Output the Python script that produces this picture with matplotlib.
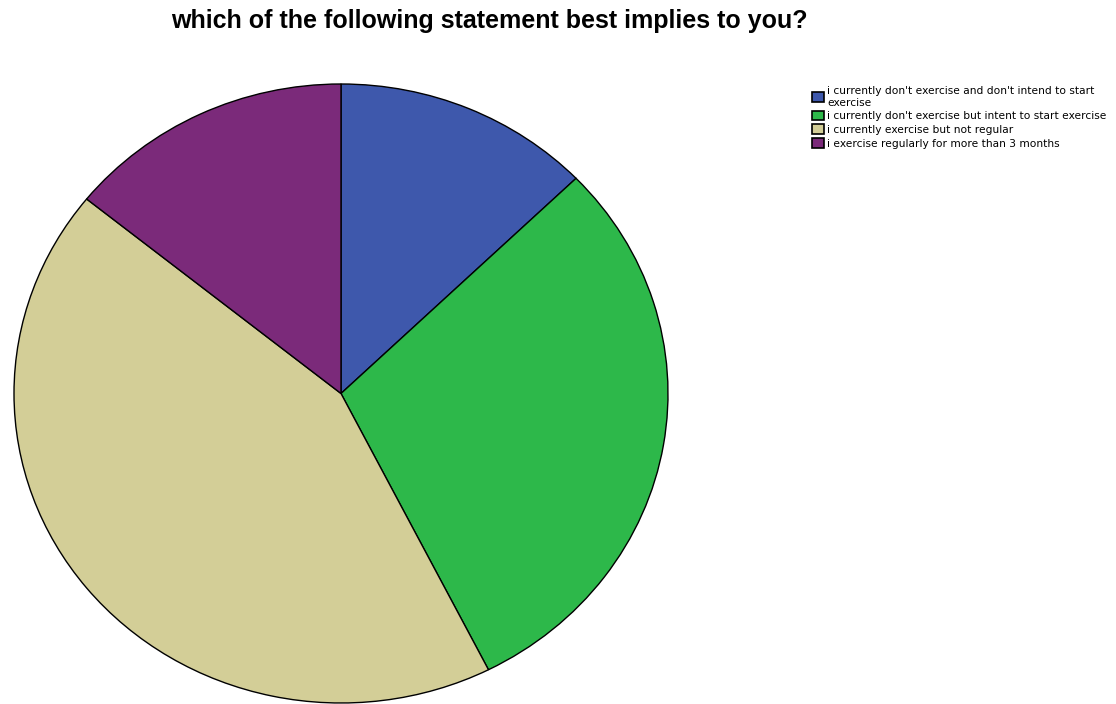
import matplotlib.pyplot as plt
from matplotlib.patches import Patch

plt.rcParams['font.family'] = ['Liberation Sans', 'DejaVu Sans']

labels = [
    "i currently don't exercise and don't intend to start\nexercise",
    "i currently don't exercise but intent to start exercise",
    "i currently exercise but not regular",
    "i exercise regularly for more than 3 months",
]
counts = [18, 42, 61, 20]
colors = ['#3e58ac', '#2db84a', '#d3ce97', '#7b2a7a']

fig = plt.figure(figsize=(11.16, 7.04), dpi=100)
ax = fig.add_axes([14 / 1116, 1 / 704, 654 / 1116, 619 / 704])

wedges, _ = ax.pie(counts, colors=colors, startangle=90, counterclock=False,
                   wedgeprops=dict(edgecolor='black', linewidth=1.0))
for w in wedges:
    w.set_clip_on(False)
ax.set_aspect('auto')
ax.set_xlim(-1, 1)
ax.set_ylim(-1, 1)
ax.axis('off')

fig.text(489 / 1116, 1 - 21 / 704, "which of the following statement best implies to you?",
         ha='center', va='center', fontsize=18, fontweight='bold')

handles = [Patch(facecolor=c, edgecolor='black', linewidth=1.2) for c in colors]
fig.legend(handles, labels, loc='upper left', bbox_to_anchor=(812 / 1116, 1 - 86 / 704),
           frameon=False, prop=dict(family='DejaVu Sans', size=7.7),
           handlelength=1.1, handleheight=1.0,
           handletextpad=0.3, labelspacing=0.3, borderpad=0, borderaxespad=0)

fig.savefig('out.png', dpi=100)
